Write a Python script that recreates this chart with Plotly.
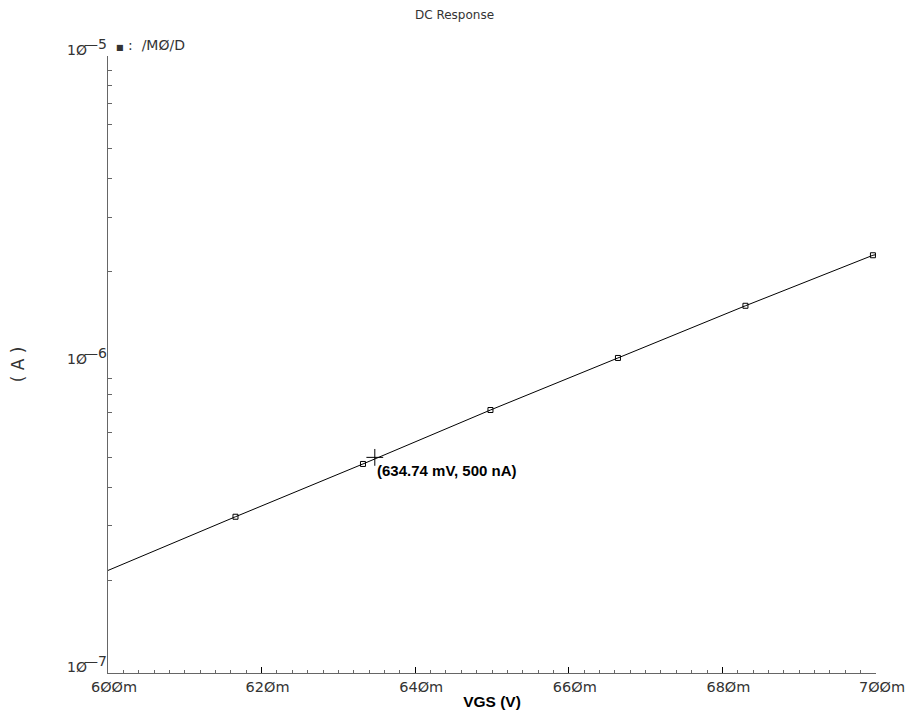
import math
import plotly.graph_objects as go

# Drain current vs gate voltage (DC sweep), volts / amps
vgs = [0.600, 0.6166, 0.6332, 0.6498, 0.6664, 0.6830, 0.6996, 0.700]
i_d = [2.15e-7, 3.21e-7, 4.76e-7, 7.12e-7, 1.05e-6, 1.55e-6, 2.26e-6, 2.27e-6]

# Every-Nth-point markers on the trace
mark_vgs = [0.6166, 0.6332, 0.6498, 0.6664, 0.6830, 0.6996]
mark_id = [3.21e-7, 4.76e-7, 7.12e-7, 1.05e-6, 1.55e-6, 2.26e-6]

# Cursor readout
cursor_vgs = 0.63474
cursor_id = 500e-9
cursor_text = "(634.74 mV, 500 nA)"

x_tickvals = [0.60, 0.62, 0.64, 0.66, 0.68, 0.70]
x_ticktext = ["6ØØm", "62Øm", "64Øm", "66Øm", "68Øm", "7ØØm"]
y_tickvals = [1e-7, 1e-6, 1e-5]
y_tick_mantissa = ["1Ø", "1Ø", "1Ø"]
y_tick_exponent = ["—7", "—6", "—5"]
y_minor = [k * 10.0 ** e for e in (-7, -6) for k in range(2, 10)]

axis_color = "#666666"
text_grey = "#333333"
label_font = dict(family="DejaVu Sans", size=14, color=text_grey)

fig = go.Figure()
fig.add_trace(go.Scatter(x=vgs, y=i_d, mode="lines",
                         line=dict(color="black", width=1), showlegend=False,
                         hoverinfo="skip"))
fig.add_trace(go.Scatter(x=mark_vgs, y=mark_id, mode="markers",
                         marker=dict(symbol="square-open", size=5, color="black",
                                     line=dict(width=1, color="black")),
                         showlegend=False))
fig.add_trace(go.Scatter(x=[cursor_vgs], y=[cursor_id], mode="markers",
                         marker=dict(symbol="cross-thin-open", size=12,
                                     color="black",
                                     line=dict(width=1, color="black")),
                         showlegend=False))

# annotation y on a log axis is given in log10 units
fig.add_annotation(x=cursor_vgs, y=math.log10(cursor_id), xref="x", yref="y",
                   text=cursor_text, showarrow=False,
                   xanchor="left", yanchor="top", xshift=0, yshift=-3,
                   font=dict(family="Liberation Sans", size=15, color="black",
                             weight="bold"))

# plotter-style decade labels: mantissa on the tick, exponent raised beside it
for v, m, e in zip(y_tickvals, y_tick_mantissa, y_tick_exponent):
    fig.add_annotation(x=0, y=math.log10(v), xref="paper", yref="y", text=m,
                       showarrow=False, xanchor="right", yanchor="bottom",
                       xshift=-19, yshift=-4, font=label_font)
    fig.add_annotation(x=0, y=math.log10(v), xref="paper", yref="y", text=e,
                       showarrow=False, xanchor="right", yanchor="bottom",
                       xshift=1, yshift=2, font=label_font)

fig.add_annotation(x=0, y=1, xref="paper", yref="paper",
                   text="<span style='font-size:8px'>■</span> :  /MØ/D",
                   showarrow=False, xanchor="left", yanchor="bottom",
                   xshift=6, yshift=1,
                   font=dict(family="DejaVu Sans", size=14, color=text_grey))

fig.update_layout(
    width=909, height=715,
    paper_bgcolor="white", plot_bgcolor="white",
    margin=dict(l=108, r=33, t=56, b=42),
    title=dict(text="DC Response", x=0.5, xanchor="center", y=0.985,
               yanchor="top", font=dict(family="DejaVu Sans", size=12,
                                        color=text_grey)),
    xaxis=dict(range=[0.6, 0.7], tickmode="array", tickvals=x_tickvals,
               ticktext=x_ticktext, ticks="inside", ticklen=6,
               tickcolor="black", showgrid=False, zeroline=False,
               showline=True, linecolor=axis_color, linewidth=1,
               automargin=False,
               tickfont=dict(family="DejaVu Sans", size=14.5, color=text_grey),
               ticklabelstandoff=1, ticklabelshift=6,
               minor=dict(dtick=0.002, tick0=0.6, ticks="inside", ticklen=3,
                          tickcolor=axis_color, showgrid=False),
               title=dict(text="VGS (V)", standoff=1,
                          font=dict(family="Liberation Sans", size=15.5,
                                    color="black", weight="bold"))),
    yaxis=dict(type="log", range=[-7, -5], tickmode="array",
               tickvals=y_tickvals, showticklabels=False, ticks="",
               showgrid=False, zeroline=False, showline=True,
               linecolor=axis_color, linewidth=1, automargin=False,
               minor=dict(tickmode="array", tickvals=y_minor, ticks="inside",
                          ticklen=4, tickcolor=axis_color, showgrid=False),
               title=dict(text="( A )", standoff=78,
                          font=dict(family="DejaVu Sans", size=17,
                                    color=text_grey))),
)

fig.write_html("out.html")
